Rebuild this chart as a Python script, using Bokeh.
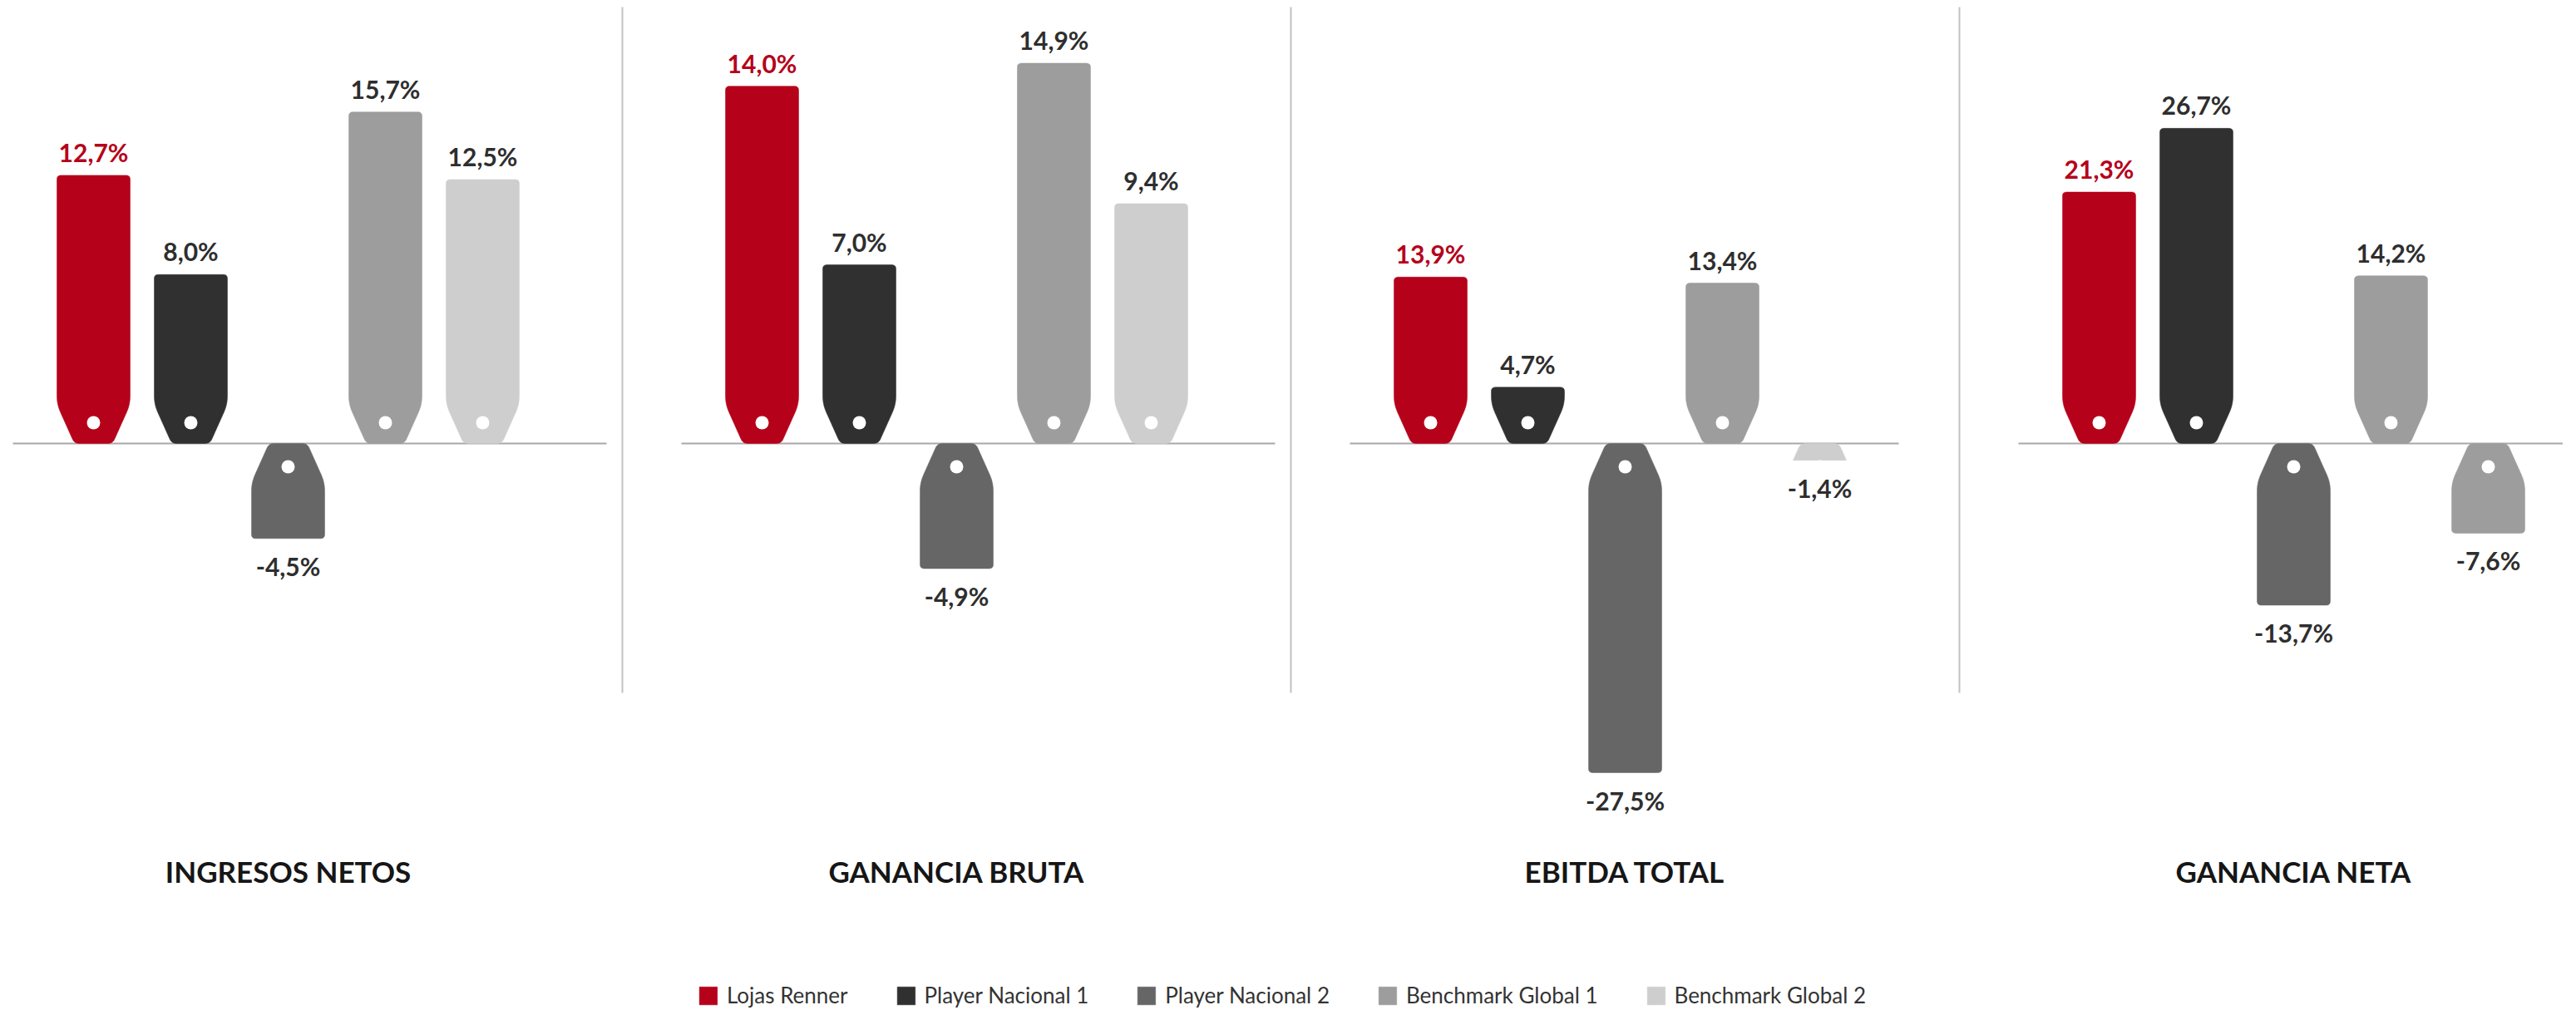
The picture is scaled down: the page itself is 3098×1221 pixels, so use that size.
import numpy as np
from bokeh.plotting import figure
from bokeh.models import Range1d, Legend, LegendItem, ColumnDataSource
from bokeh.core.properties import value
from bokeh.embed import file_html
from bokeh.resources import INLINE

# ---------------- data ----------------
series = ["Lojas Renner", "Player Nacional 1", "Player Nacional 2",
          "Benchmark Global 1", "Benchmark Global 2"]
series_colors = ["#b5011a", "#303030", "#666666", "#9d9d9d", "#cecece"]
panel_titles = ["INGRESOS NETOS", "GANANCIA BRUTA", "EBITDA TOTAL", "GANANCIA NETA"]
ingresos_netos = [12.7, 8.0, -4.5, 15.7, 12.5]
ganancia_bruta = [14.0, 7.0, -4.9, 14.9, 9.4]
ebitda_total = [13.9, 4.7, -27.5, 13.4, -1.4]
ganancia_neta = [21.3, 26.7, -13.7, 14.2, -7.6]
panel_values = [ingresos_netos, ganancia_bruta, ebitda_total, ganancia_neta]
# in the original, the last tag of "GANANCIA NETA" is drawn in the Benchmark Global 1 grey
panel_colors = [series_colors, series_colors, series_colors,
                series_colors[:4] + [series_colors[3]]]

# ---------------- layout / style ----------------
W, H = 3082, 1213
BASE_FROM_TOP = 533          # baseline position (px from top)
PX_PER_PCT = [25.4, 30.7, 14.4, 14.2]
PANEL_STEP = 804
PANEL0_CENTER = 346
BAR_STEP = 117
BASELINE_LEFT = 331
BASELINE_RIGHT = [383, 383, 329, 329]
TAG_W, TAG_N, TAG_T = 88, 46, 47
HOLE_D = 16
FONT = "Lato"
LABEL_DARK = "#2e2e2e"

p = figure(width=W, height=H, x_range=Range1d(0, W), y_range=Range1d(0, H),
           min_border=0, toolbar_location=None, output_backend="svg")
p.axis.visible = False
p.grid.visible = False
p.outline_line_color = None
p.background_fill_color = "white"
p.border_fill_color = "white"

base_y = H - BASE_FROM_TOP


def round_poly(pts, radii, n=7):
    out = []
    m = len(pts)
    for i in range(m):
        p0 = np.array(pts[i - 1], float)
        p1 = np.array(pts[i], float)
        p2 = np.array(pts[(i + 1) % m], float)
        r = radii[i]
        if r <= 0:
            out.append(p1)
            continue
        v1, v2 = p0 - p1, p2 - p1
        l1, l2 = np.hypot(*v1), np.hypot(*v2)
        d = min(r, l1 / 2, l2 / 2)
        a = p1 + v1 / l1 * d
        b = p1 + v2 / l2 * d
        for t in np.linspace(0, 1, n):
            out.append((1 - t) ** 2 * a + 2 * (1 - t) * t * p1 + t ** 2 * b)
    return out


def tag_shape(cx, v, s):
    sg = 1 if v >= 0 else -1
    h = abs(v) * s
    if h >= TAG_T:
        pts = [(cx - TAG_W / 2, sg * h), (cx + TAG_W / 2, sg * h),
               (cx + TAG_W / 2, sg * TAG_T), (cx + TAG_N / 2, 0),
               (cx - TAG_N / 2, 0), (cx - TAG_W / 2, sg * TAG_T)]
        radii = [5, 5, 10, 6, 6, 10]
    else:
        wh = TAG_N + (TAG_W - TAG_N) * h / TAG_T
        pts = [(cx - wh / 2, sg * h), (cx + wh / 2, sg * h),
               (cx + TAG_N / 2, 0), (cx - TAG_N / 2, 0)]
        radii = [0, 0, 6, 6]
    rp = round_poly(pts, radii)
    xs = [float(q[0]) for q in rp]
    ys = [float(q[1]) / s for q in rp]   # pixel offsets -> data units of the panel
    return xs, ys


legend_renderer = None
for k, (title, vals, cols, s) in enumerate(zip(panel_titles, panel_values, panel_colors, PX_PER_PCT)):
    rname = f"panel{k}"
    p.extra_y_ranges[rname] = Range1d(-base_y / s, (H - base_y) / s)
    pc = PANEL0_CENTER + k * PANEL_STEP
    centers = [pc + (i - 2) * BAR_STEP for i in range(len(vals))]

    xs_all, ys_all = [], []
    for cx, v in zip(centers, vals):
        xs, ys = tag_shape(cx, v, s)
        xs_all.append(xs)
        ys_all.append(ys)

    # baseline
    p.segment(x0=[pc - BASELINE_LEFT], x1=[pc + BASELINE_RIGHT[k]], y0=[base_y], y1=[base_y],
              line_color="#a8a8a8", line_width=2)

    src = ColumnDataSource(dict(xs=xs_all, ys=ys_all, color=cols, name=series))
    r = p.patches("xs", "ys", source=src, fill_color="color", line_color="color",
                  line_width=0.5, y_range_name=rname)
    if k == 0:
        legend_renderer = r

    # holes
    hole_y = [(25 if v >= 0 else -28) / s for v in vals]
    p.scatter(x=centers, y=hole_y, size=HOLE_D, marker="circle",
              fill_color="white", line_color=None, y_range_name=rname)

    # value labels
    labels = [f"{v:.1f}%".replace(".", ",") for v in vals]
    lab_cols = [series_colors[0] if i == 0 else LABEL_DARK for i in range(len(vals))]
    offs = [-28 if v >= 0 else 33 for v in vals]
    lsrc = ColumnDataSource(dict(x=centers, y=vals, text=labels, c=lab_cols, off=offs))
    p.text("x", "y", text="text", source=lsrc, text_color="c", y_offset="off",
           text_align="center", text_baseline="middle",
           text_font=value(FONT), text_font_style="bold", text_font_size="30px",
           y_range_name=rname)

    # panel title
    p.text(x=[pc], y=[H - 1047], text=[title], text_align="center",
           text_baseline="middle", text_font=value(FONT), text_font_style="bold",
           text_font_size="35px", text_color="#161616")

    # divider
    if k < len(panel_titles) - 1:
        dx = pc + PANEL_STEP / 2
        p.segment(x0=[dx], x1=[dx], y0=[H - 8], y1=[H - 833], line_color="#c2c2c2", line_width=2)

legend = Legend(
    items=[LegendItem(label=name, renderers=[legend_renderer], index=i)
           for i, name in enumerate(series)],
    orientation="horizontal", location="bottom_center",
    glyph_width=27, glyph_height=27, label_standoff=9, spacing=56,
    label_text_font=FONT, label_text_font_size="26px", label_text_color="#333333",
    border_line_color=None, background_fill_alpha=0, padding=0, margin=0,
)
p.add_layout(legend, "center")

open("out.html", "w").write(file_html(p, INLINE))
